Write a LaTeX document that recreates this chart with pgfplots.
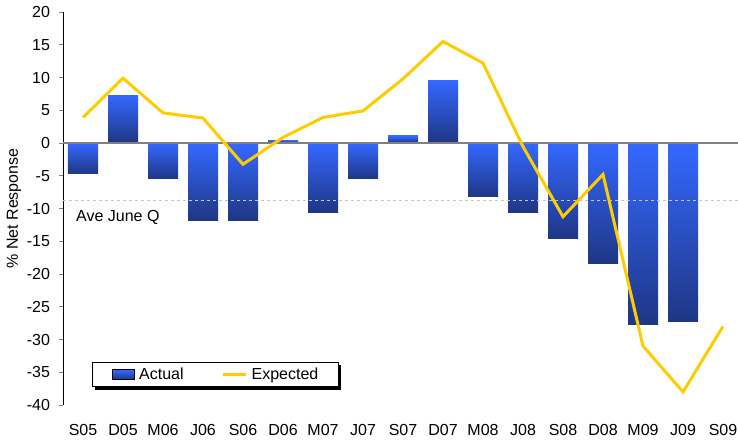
\documentclass[border=0pt]{standalone}
\usepackage{fontspec}
\setmainfont{Liberation Sans}
\usepackage{pgfplots}
\pgfplotsset{compat=1.18}
\usepackage{pgfplotstable}
\usetikzlibrary{backgrounds}
\definecolor{barTop}{RGB}{52,104,255}
\definecolor{barBot}{RGB}{30,54,132}
\definecolor{lineY}{RGB}{255,204,0}
\pgfplotstableread{
x act exp
0 -4.7 3.9
1 7.3 9.9
2 -5.45 4.6
3 -11.85 3.8
4 -11.85 -3.25
5 0.45 0.85
6 -10.6 3.9
7 -5.45 4.9
8 1.07 9.8
9 9.6 15.5
10 -8.2 12.2
11 -10.6 -0.55
12 -14.65 -11.25
13 -18.4 -4.8
14 -27.7 -31
15 -27.3 -38
16 nan -28
}\data
\begin{document}
\fontsize{16}{19}\selectfont
\begin{tikzpicture}
\begin{axis}[
 scale only axis, width=675pt, height=393pt,
 xmin=-0.5, xmax=16.375, ymin=-40, ymax=20,
 ytick={-40,-35,...,20},
 xtick={0,...,16},
 xticklabels={S05,D05,M06,J06,S06,D06,M07,J07,S07,D07,M08,J08,S08,D08,M09,J09,S09},
 axis y line*=left, axis x line*=bottom,
 x axis line style={draw=none},
 y axis line style={line width=0.8pt},
 xtick style={draw=none},
 ytick style={line width=0.8pt},
 ytick align=outside, major tick length=4pt,
 tick label style={font=\fontsize{16}{19}\selectfont},
 yticklabel style={xshift=-3.5pt},
 xticklabel style={yshift=-14pt},
 /pgf/number format/assume math mode=true,
 ylabel={\% Net Response},
 every axis y label/.style={at={(axis description cs:-0.0726,0.5)}, rotate=90, anchor=center, font=\fontsize{16}{19}\selectfont},
 legend columns=2,
 legend style={at={(axis description cs:0,0)}, anchor=south west, xshift=29pt, yshift=18pt,
   draw=black, line width=0.8pt, fill=white, name=leg,
   inner xsep=20pt, inner ysep=5pt,
   font=\fontsize{16}{19}\selectfont,
   nodes={inner sep=0pt, anchor=west},
   /tikz/every odd column/.append style={column sep=4pt},
   /tikz/every even column/.append style={column sep=38pt}},
]
\addlegendimage{legend image code/.code={\fill[top color=barTop, bottom color=barBot] (0pt,-5pt) rectangle (22pt,5pt);}}
\addlegendentry{Actual}
\pgfplotsinvokeforeach{0,...,15}{
\addplot[ybar, bar width=30pt, draw=none, top color=barTop, bottom color=barBot, forget plot,
  restrict expr to domain={\coordindex}{#1:#1}]
  table[x=x, y=act] {\data};
}
\addplot[sharp plot, no marks, forget plot, color=black!22, line width=0.8pt, dash pattern=on 3pt off 3pt]
  coordinates {(-0.5,-8.7) (16.375,-8.7)};
\addplot[sharp plot, no marks, forget plot, color=black!50, line width=1.8pt]
  coordinates {(-0.5,0) (16.375,0)};
\addplot[sharp plot, no marks, color=lineY, line width=3pt,
  legend image code/.code={\draw[lineY, line width=3pt] (0pt,0pt) -- (23pt,0pt);}]
  table[x=x, y=exp] {\data};
\addlegendentry{Expected}
\node[anchor=base west, inner sep=0pt, font=\fontsize{16}{19}\selectfont] at (axis cs:-0.175,-12.0) {Ave June Q};
\end{axis}
\begin{scope}[on background layer]
\fill[black] ([shift={(2.5pt,-2.5pt)}]leg.south west) rectangle ([shift={(2.5pt,-2.5pt)}]leg.north east);
\end{scope}
\pgfresetboundingbox
\path (current axis.south west) +(-63pt,-34pt) rectangle ([yshift=12pt]current axis.north east);
\end{tikzpicture}
\end{document}
